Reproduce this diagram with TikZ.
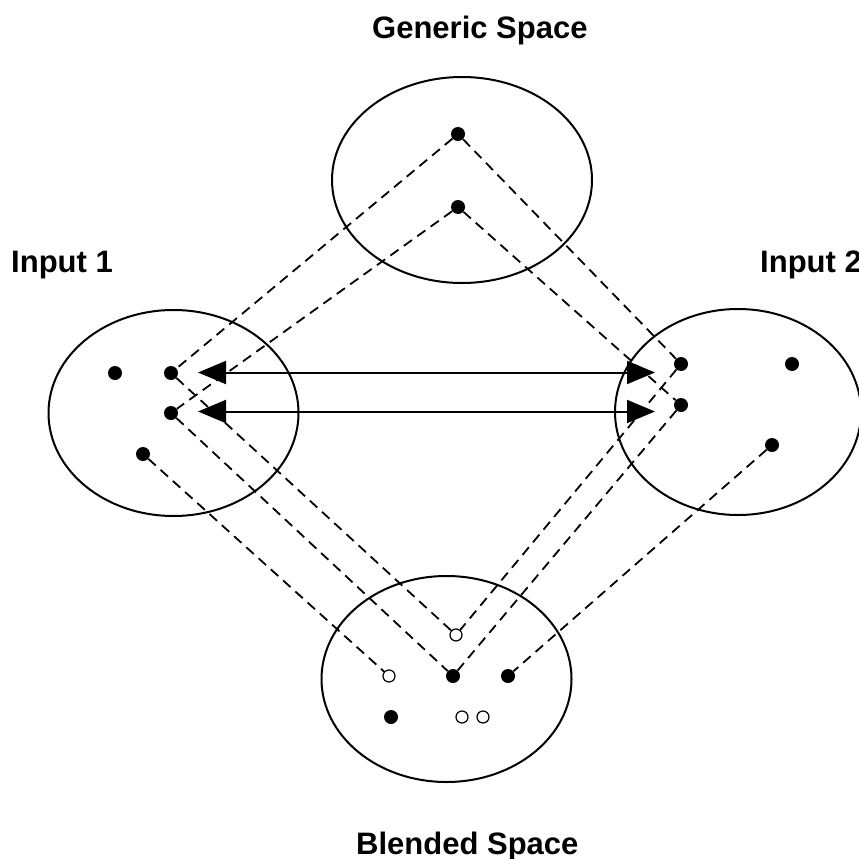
\documentclass[tikz,border=0pt]{standalone}
\usepackage{fontspec}
\setmainfont{Liberation Sans}
\usetikzlibrary{arrows.meta,shapes.geometric}

\begin{document}
\begin{tikzpicture}[x=1pt,y=-1pt,
  region/.style={draw,ellipse,line width=2pt,inner sep=0pt,
                 minimum width=250pt,minimum height=206pt},
  dot/.style={circle,fill=black,inner sep=0pt,minimum size=14pt},
  hollow/.style={circle,draw,line width=1.2pt,fill=white,inner sep=0pt,minimum size=12pt},
  link/.style={line width=1.8pt,dash pattern=on 10pt off 6.5pt},
  mapping/.style={{Triangle[length=28pt,width=23pt]}-{Triangle[length=28pt,width=23pt]},line width=2pt},
  title/.style={font=\bfseries\fontsize{31}{36}\selectfont,inner sep=0pt,anchor=base west}
]
\useasboundingbox (0,0) rectangle (859,859);

% the four mental spaces
\node[region,minimum width=260pt] (generic) at (462,180) {};
\node[region] (input1) at (173.5,413) {};
\node[region,minimum width=246pt] (input2) at (738,412) {};
\node[region] (blend) at (446.5,679) {};

% titles
\node[title] (tgeneric) at (372,38) {Generic Space};
\node[title] (tinput1) at (11,272) {Input 1};
\node[title] (tinput2) at (760,272) {Input 2};
\node[title] (tblend) at (356,854) {Blended Space};

% elements of the generic space
\node[dot] (g1) at (458,134) {};
\node[dot] (g2) at (458,207) {};

% elements of input 1
\node[dot] (a1) at (115,373) {};
\node[dot] (a2) at (171,373) {};
\node[dot] (a3) at (171,413) {};
\node[dot] (a4) at (143,454) {};

% elements of input 2
\node[dot] (b1) at (681,364) {};
\node[dot] (b2) at (792,364) {};
\node[dot] (b3) at (681,405) {};
\node[dot] (b4) at (772,445) {};

% elements of the blend
\node[hollow] (c1) at (456,635) {};
\node[hollow] (c2) at (389,676) {};
\node[dot] (c3) at (453,676) {};
\node[dot] (c4) at (508,676) {};
\node[dot] (c5) at (391,717) {};
\node[hollow] (c6) at (462,717) {};
\node[hollow] (c7) at (483,717) {};

% projections between spaces
\draw[link] (g1) -- (a2);
\draw[link] (g1) -- (b1);
\draw[link] (g2) -- (a3);
\draw[link] (g2) -- (b3);
\draw[link] (a2) -- (c1);
\draw[link] (a3) -- (c3);
\draw[link] (a4) -- (c2);
\draw[link] (b1) -- (c1);
\draw[link] (b3) -- (c3);
\draw[link] (b4) -- (c4);

% cross-space mappings
\coordinate (m1l) at (198,372.5);
\coordinate (m1r) at (655,372.5);
\coordinate (m2l) at (198,411.5);
\coordinate (m2r) at (655,411.5);
\draw[mapping] (m1l) -- (m1r);
\draw[mapping] (m2l) -- (m2r);
\end{tikzpicture}
\end{document}
